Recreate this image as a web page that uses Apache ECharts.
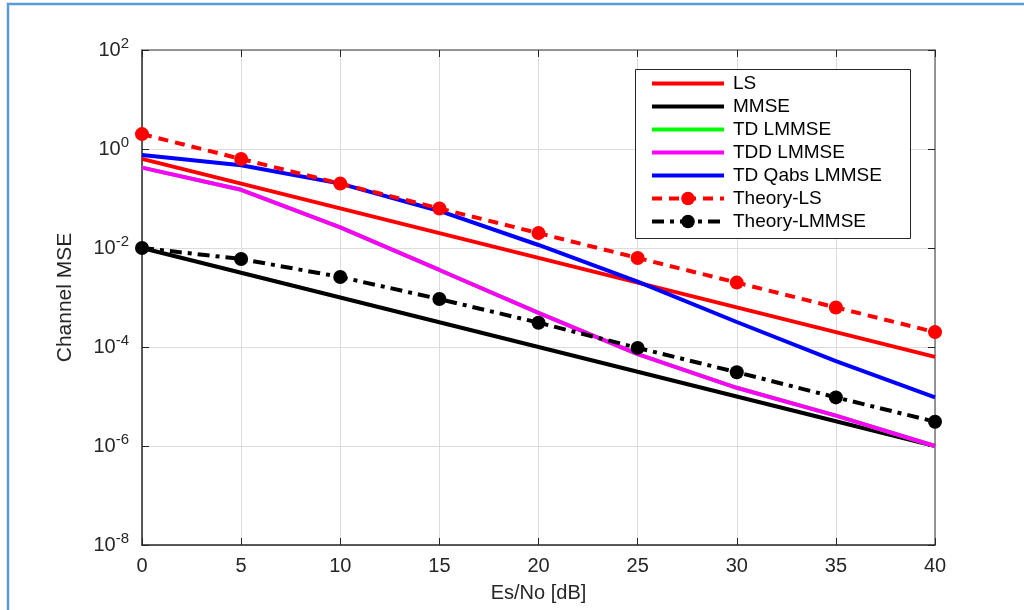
<!DOCTYPE html>
<html>
<head>
<meta charset="utf-8">
<script src="https://cdn.jsdelivr.net/npm/echarts@6/dist/echarts.min.js"></script>
<style>html,body{margin:0;padding:0;background:#fff;}#c{width:1024px;height:610px;}</style>
</head>
<body>
<div id="c"></div>
<script>
const snr = [0, 5, 10, 15, 20, 25, 30, 35, 40];
const xTicks = [0, 5, 10, 15, 20, 25, 30, 35, 40];
const yTickExponents = [2, 0, -2, -4, -6, -8];
const seriesNames = ['LS', 'MMSE', 'TD LMMSE', 'TDD LMMSE', 'TD Qabs LMMSE', 'Theory-LS', 'Theory-LMMSE'];
const ls = [0.63, 0.2, 0.063, 0.02, 0.0063, 0.002, 0.00063, 0.0002, 0.000063];
const mmse = [0.01, 0.00316, 0.001, 0.000316, 0.0001, 0.0000316, 0.00001, 0.00000316, 0.000001];
const tdLmmse = [0.42, 0.15, 0.026, 0.0036, 0.00049, 0.000072, 0.000015, 0.0000041, 0.000001];
const tddLmmse = [0.42, 0.15, 0.026, 0.0036, 0.00049, 0.000072, 0.000015, 0.0000041, 0.000001];
const tdQabs = [0.76, 0.47, 0.2, 0.056, 0.0115, 0.0021, 0.00032, 0.000052, 0.0000096];
const theoryLs = [2, 0.63, 0.2, 0.063, 0.02, 0.0063, 0.002, 0.00063, 0.0002];
const theoryLmmse = [0.01, 0.006, 0.0026, 0.00093, 0.00031, 0.000096, 0.000031, 0.0000096, 0.0000031];

const FONT = '"Liberation Sans", Arial, Helvetica, sans-serif';
const pairs = arr => snr.map((x, i) => [x, arr[i]]);

const chart = echarts.init(document.getElementById('c'), null, {renderer: 'canvas'});

function solid(name, data, color) {
  return {
    name, type: 'line', data: pairs(data), symbol: 'circle', showSymbol: false,
    lineStyle: {color, width: 4}, itemStyle: {color, opacity: 0}, color, z: 2, animation: false
  };
}
function theory(name, data, color, dash) {
  return {
    name, type: 'line', data: pairs(data), symbol: 'circle', symbolSize: 14,
    lineStyle: {color, width: 4, type: dash}, itemStyle: {color}, color, z: 3, animation: false
  };
}

const option = {
  animation: false,
  backgroundColor: '#ffffff',
  grid: {left: 142, right: 89, top: 50, bottom: 65, containLabel: false},
  xAxis: [{
    type: 'value', min: 0, max: 40, interval: 5, position: 'bottom',
    name: 'Es/No [dB]', nameLocation: 'middle', nameGap: 38,
    nameTextStyle: {fontFamily: FONT, fontSize: 20, color: '#262626'},
    axisLine: {show: true, onZero: false, lineStyle: {color: '#262626', width: 1.5}},
    axisTick: {show: true, inside: true, length: 7, lineStyle: {color: '#262626'}},
    axisLabel: {fontFamily: FONT, fontSize: 20, color: '#262626', margin: 11,
      formatter: v => xTicks.includes(v) ? String(v) : ''},
    splitLine: {show: true, lineStyle: {color: '#dcdcdc', width: 1}}
  }, {
    type: 'value', min: 0, max: 40, interval: 5, position: 'top',
    axisLine: {show: true, onZero: false, lineStyle: {color: '#777777', width: 1.5}},
    axisTick: {show: true, inside: true, length: 7, lineStyle: {color: '#262626'}},
    axisLabel: {show: false}, splitLine: {show: false}
  }],
  yAxis: [{
    type: 'log', logBase: 100, min: 1e-8, max: 1e2, position: 'left',
    name: 'Channel MSE', nameLocation: 'middle', nameGap: 66, nameRotate: 90,
    nameTextStyle: {fontFamily: FONT, fontSize: 21, color: '#262626'},
    axisLine: {show: true, onZero: false, lineStyle: {color: '#262626', width: 1.5}},
    axisTick: {show: true, inside: true, length: 7, lineStyle: {color: '#262626'}},
    axisLabel: {
      margin: 13, color: '#262626',
      formatter: v => {
        const e = Math.round(Math.log10(v));
        if (!yTickExponents.includes(e)) return '';
        return '{b|10}{s|' + e + '}';
      },
      rich: {
        b: {fontFamily: FONT, fontSize: 20, color: '#262626'},
        s: {fontFamily: FONT, fontSize: 15, color: '#262626', verticalAlign: 'bottom', padding: [0, 0, 13, 0]}
      }
    },
    splitLine: {show: true, lineStyle: {color: '#dcdcdc', width: 1}}
  }, {
    type: 'log', logBase: 100, min: 1e-8, max: 1e2, position: 'right',
    axisLine: {show: true, onZero: false, lineStyle: {color: '#777777', width: 1.5}},
    axisTick: {show: true, inside: true, length: 7, lineStyle: {color: '#262626'}},
    axisLabel: {show: false}, splitLine: {show: false}
  }],
  legend: {
    show: true, orient: 'vertical', left: 650, top: 72, z: 20,
    itemWidth: 72, itemHeight: 17, itemGap: 0, padding: 0,
    backgroundColor: 'transparent',
    data: seriesNames,
    lineStyle: {width: 4},
    textStyle: {fontFamily: FONT, fontSize: 19, color: '#000', lineHeight: 23, padding: [0, 0, 0, 4]}
  },
  graphic: [
    {type: 'rect', z: 15, shape: {x: 635.5, y: 69.5, width: 275, height: 169},
     style: {fill: '#ffffff', stroke: '#262626', lineWidth: 1}},
    {type: 'rect', z: 30, shape: {x: 8, y: 4, width: 1100, height: 700},
     style: {fill: 'none', stroke: '#5b9bd5', lineWidth: 2.5}}
  ],
  series: [
    solid(seriesNames[0], ls, '#ff0000'),
    solid(seriesNames[1], mmse, '#000000'),
    solid(seriesNames[2], tdLmmse, '#00ff00'),
    solid(seriesNames[3], tddLmmse, '#ff00ff'),
    solid(seriesNames[4], tdQabs, '#0000ff'),
    theory(seriesNames[5], theoryLs, '#ff0000', [10, 7]),
    theory(seriesNames[6], theoryLmmse, '#000000', [12, 6, 4, 6])
  ]
};
chart.setOption(option);
</script>
</body>
</html>
